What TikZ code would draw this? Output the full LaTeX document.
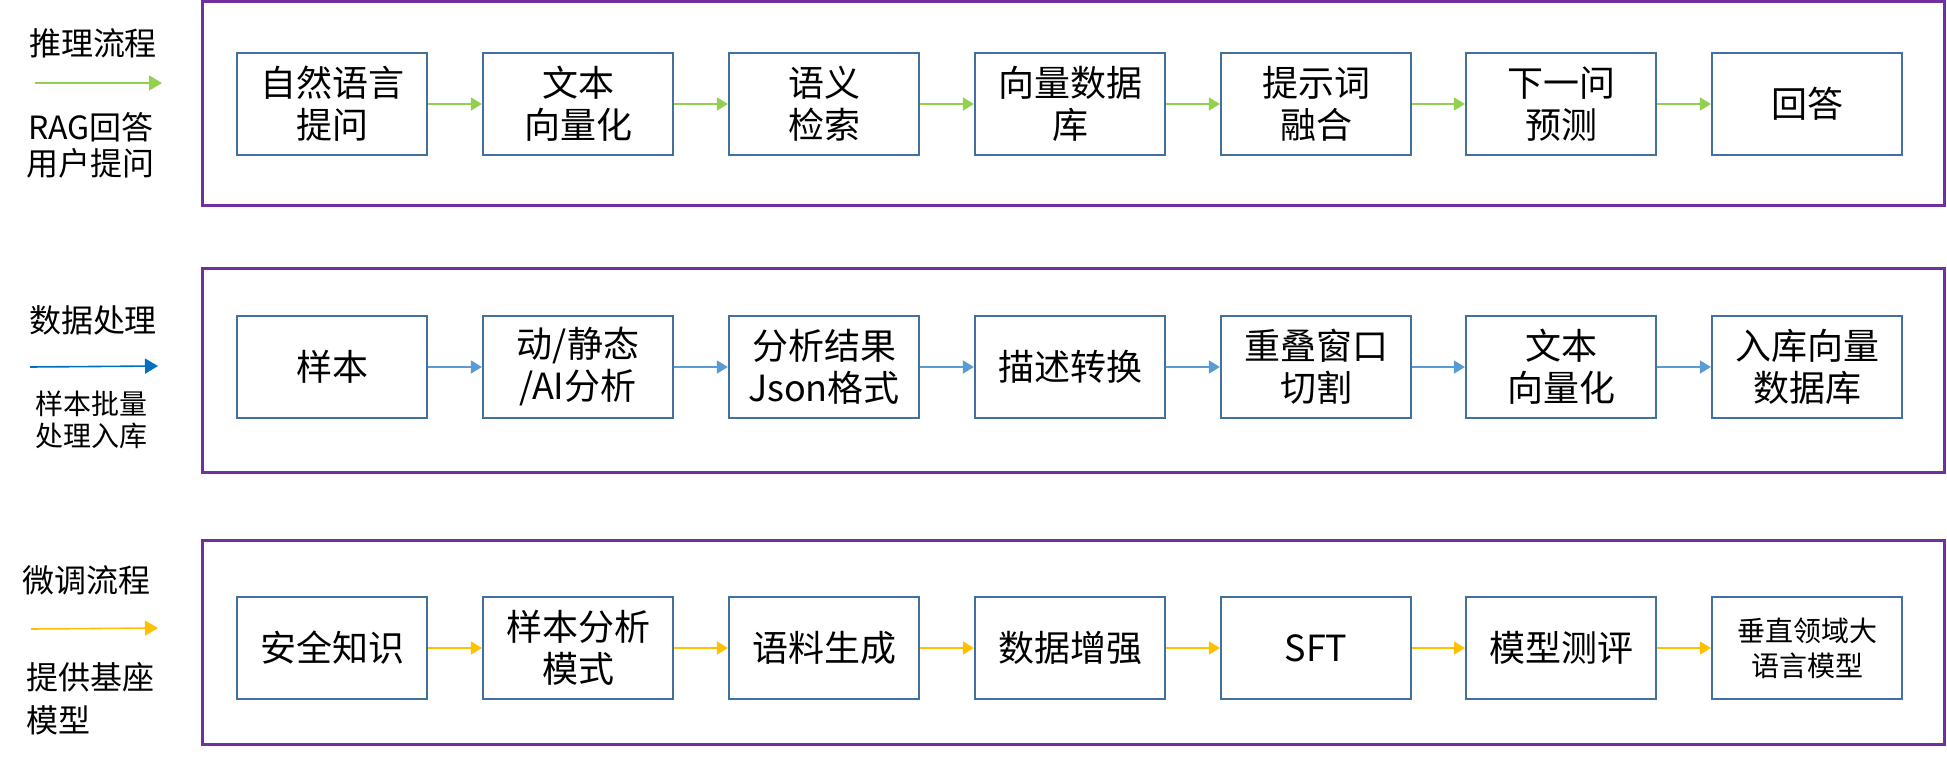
\documentclass[tikz,border=0pt]{standalone}
\usepackage{fontspec}
\setmainfont{Noto Sans CJK SC}
\usetikzlibrary{arrows.meta}
\definecolor{boxblue}{HTML}{41719C}
\definecolor{framepurple}{HTML}{7030A0}
\definecolor{flowgreen}{HTML}{92D050}
\definecolor{flowblue}{HTML}{5B9BD5}
\definecolor{sideblue}{HTML}{0070C0}
\definecolor{flowyellow}{HTML}{FFC000}

\begin{document}
\begin{tikzpicture}[x=1pt, y=-1pt,
  stepbox/.style={draw=boxblue, line width=2.2pt, minimum width=190pt, minimum height=102pt, inner sep=0pt, align=center, font=\fontsize{36}{42}\selectfont},
  smallbox/.style={stepbox, font=\fontsize{28}{35}\selectfont},
  frame/.style={draw=framepurple, line width=3pt, minimum width=1742pt, minimum height=204pt, inner sep=0pt},
  sidelabel/.style={inner sep=0pt, align=center, font=\fontsize{32}{36}\selectfont},
  flow/.style={-{Triangle[length=11pt,width=13pt]}, line width=1.6pt},
  sideflow/.style={-{Triangle[length=13pt,width=15pt]}, line width=1.6pt}
]
\useasboundingbox (0,0) rectangle (1947,758);

% frames
\node[frame] (inf-f) at (1073,103) {};
\node[frame] (dat-f) at (1073,370) {};
\node[frame] (ft-f)  at (1073,642) {};

% left side labels
\node[sidelabel] (inf-l) at (93,43) {推理流程};
\coordinate (inf-s) at (35,83);
\coordinate (inf-e) at (162,83);
\node[sidelabel] (inf-d) at (91,145) {RAG回答\\用户提问};
\draw[sideflow, flowgreen] (inf-s) -- (inf-e);

\node[sidelabel] (dat-l) at (93,320) {数据处理};
\coordinate (dat-s) at (30,367);
\coordinate (dat-e) at (158,366);
\node[sidelabel, font=\fontsize{28}{32}\selectfont] (dat-d) at (91,420) {样本批量\\处理入库};
\draw[sideflow, sideblue] (dat-s) -- (dat-e);

\node[sidelabel] (ft-l) at (87,580) {微调流程};
\coordinate (ft-s) at (31,629);
\coordinate (ft-e) at (158,628);
\node[sidelabel, align=left, anchor=west, font=\fontsize{32}{43}\selectfont] (ft-d) at (26,699) {提供基座\\模型};
\draw[sideflow, flowyellow] (ft-s) -- (ft-e);

% inference flow
\node[stepbox] (inf-1) at (332,104)  {自然语言\\提问};
\node[stepbox] (inf-2) at (578,104)  {文本\\向量化};
\node[stepbox] (inf-3) at (824,104)  {语义\\检索};
\node[stepbox] (inf-4) at (1070,104) {向量数据\\库};
\node[stepbox] (inf-5) at (1316,104) {提示词\\融合};
\node[stepbox] (inf-6) at (1561,104) {下一问\\预测};
\node[stepbox] (inf-7) at (1807,104) {回答};

\draw[flow, flowgreen] (inf-1) -- (inf-2);
\draw[flow, flowgreen] (inf-2) -- (inf-3);
\draw[flow, flowgreen] (inf-3) -- (inf-4);
\draw[flow, flowgreen] (inf-4) -- (inf-5);
\draw[flow, flowgreen] (inf-5) -- (inf-6);
\draw[flow, flowgreen] (inf-6) -- (inf-7);

% data processing
\node[stepbox] (dat-1) at (332,367)  {样本};
\node[stepbox] (dat-2) at (578,367)  {动/静态\\/AI分析};
\node[stepbox] (dat-3) at (824,367)  {分析结果\\Json格式};
\node[stepbox] (dat-4) at (1070,367) {描述转换};
\node[stepbox] (dat-5) at (1316,367) {重叠窗口\\切割};
\node[stepbox] (dat-6) at (1561,367) {文本\\向量化};
\node[stepbox] (dat-7) at (1807,367) {入库向量\\数据库};

\draw[flow, flowblue] (dat-1) -- (dat-2);
\draw[flow, flowblue] (dat-2) -- (dat-3);
\draw[flow, flowblue] (dat-3) -- (dat-4);
\draw[flow, flowblue] (dat-4) -- (dat-5);
\draw[flow, flowblue] (dat-5) -- (dat-6);
\draw[flow, flowblue] (dat-6) -- (dat-7);

% fine-tuning
\node[stepbox] (ft-1) at (332,648)  {安全知识};
\node[stepbox] (ft-2) at (578,648)  {样本分析\\模式};
\node[stepbox] (ft-3) at (824,648)  {语料生成};
\node[stepbox] (ft-4) at (1070,648) {数据增强};
\node[stepbox] (ft-5) at (1316,648) {SFT};
\node[stepbox] (ft-6) at (1561,648) {模型测评};
\node[smallbox] (ft-7) at (1807,648) {垂直领域大\\语言模型};

\draw[flow, flowyellow] (ft-1) -- (ft-2);
\draw[flow, flowyellow] (ft-2) -- (ft-3);
\draw[flow, flowyellow] (ft-3) -- (ft-4);
\draw[flow, flowyellow] (ft-4) -- (ft-5);
\draw[flow, flowyellow] (ft-5) -- (ft-6);
\draw[flow, flowyellow] (ft-6) -- (ft-7);

\end{tikzpicture}
\end{document}
